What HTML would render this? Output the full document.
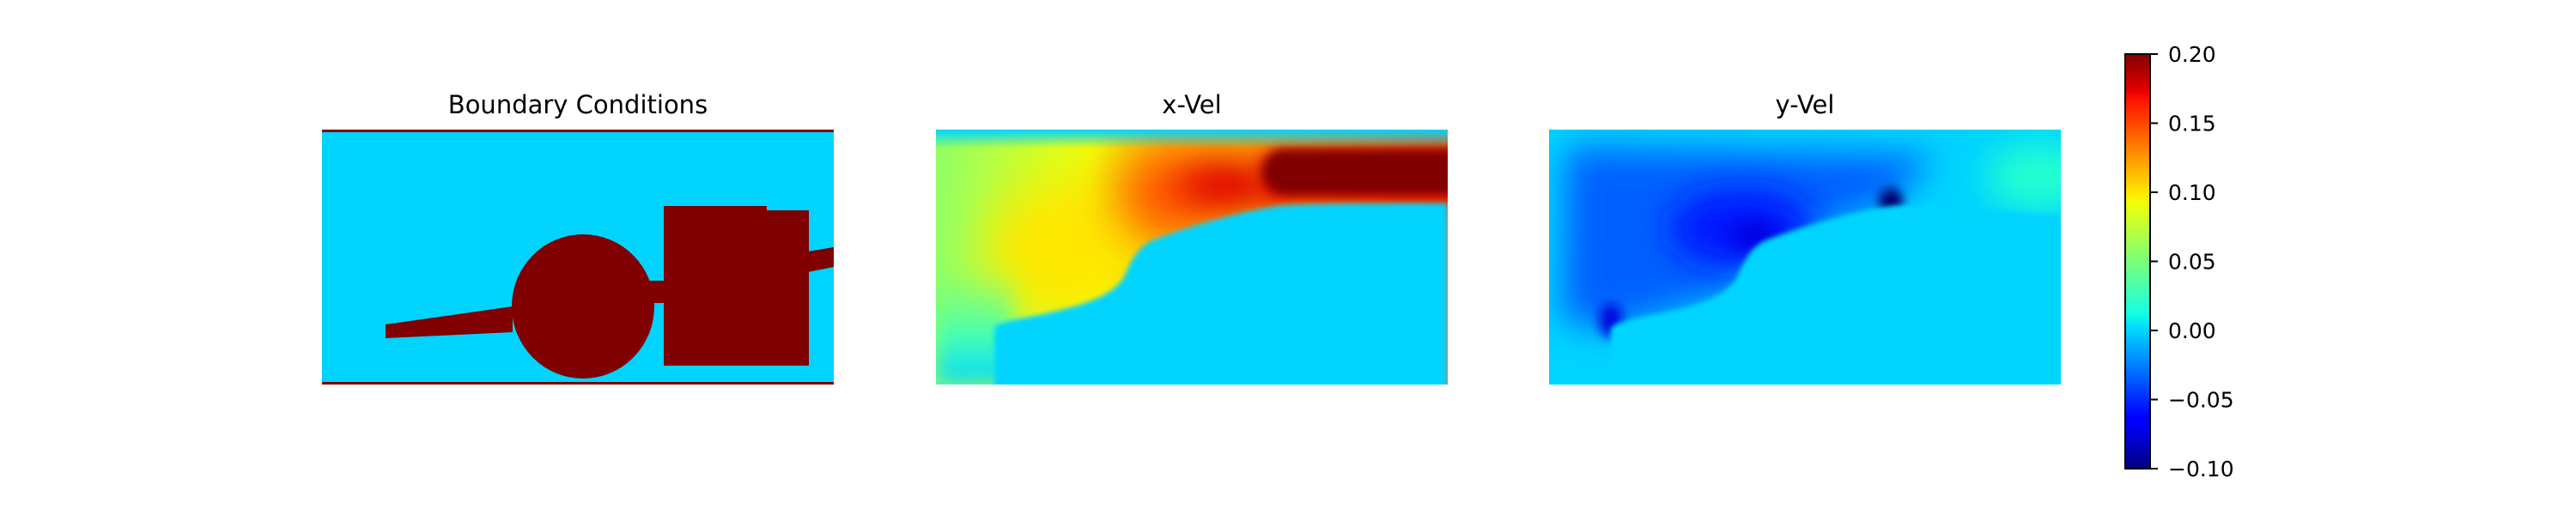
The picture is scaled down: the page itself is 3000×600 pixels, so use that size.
<!DOCTYPE html>
<html><head><meta charset="utf-8"><style>
html,body{margin:0;padding:0;background:#fff;}
svg{display:block;font-family:"DejaVu Sans","Liberation Sans",sans-serif;}
</style></head><body>
<svg id="fig" width="3000" height="600" viewBox="0 0 3000 600" xmlns="http://www.w3.org/2000/svg">
<defs>
<linearGradient id="jet" x1="0" y1="1" x2="0" y2="0">
<stop offset="0" stop-color="#000080"/><stop offset="0.11" stop-color="#0000ff"/><stop offset="0.125" stop-color="#0000ff"/>
<stop offset="0.34" stop-color="#00dbff"/><stop offset="0.375" stop-color="#14ffe3"/><stop offset="0.5" stop-color="#7aff7a"/>
<stop offset="0.64" stop-color="#f0ff08"/><stop offset="0.66" stop-color="#ffed00"/><stop offset="0.89" stop-color="#ff1200"/>
<stop offset="0.91" stop-color="#e80000"/><stop offset="1" stop-color="#800000"/>
</linearGradient>
<linearGradient id="xbase" x1="0" y1="0" x2="1" y2="0">
<stop offset="0" stop-color="#90ff66"/><stop offset="0.15" stop-color="#c0ff38"/><stop offset="0.3" stop-color="#f0ff08"/><stop offset="0.45" stop-color="#ffc000"/><stop offset="1" stop-color="#ff6000"/>
</linearGradient>
<linearGradient id="topstrip" x1="0" y1="0" x2="0" y2="1">
<stop offset="0" stop-color="#00d4ff" stop-opacity="1"/><stop offset="1" stop-color="#00d4ff" stop-opacity="0"/>
</linearGradient>
<linearGradient id="leftbot" x1="0" y1="0" x2="0" y2="1">
<stop offset="0" stop-color="#60ff96" stop-opacity="0"/><stop offset="0.6" stop-color="#40ffb8" stop-opacity="1"/><stop offset="1" stop-color="#00d4ff" stop-opacity="1"/>
</linearGradient>
<filter id="b30" filterUnits="userSpaceOnUse" x="-300" y="-300" width="1200" height="900"><feGaussianBlur stdDeviation="30"/></filter>
<filter id="b20" filterUnits="userSpaceOnUse" x="-300" y="-300" width="1200" height="900"><feGaussianBlur stdDeviation="20"/></filter>
<filter id="b12" filterUnits="userSpaceOnUse" x="-300" y="-300" width="1200" height="900"><feGaussianBlur stdDeviation="12"/></filter>
<filter id="b6" filterUnits="userSpaceOnUse" x="-300" y="-300" width="1200" height="900"><feGaussianBlur stdDeviation="6"/></filter>
<filter id="b3" filterUnits="userSpaceOnUse" x="-300" y="-300" width="1200" height="900"><feGaussianBlur stdDeviation="3"/></filter>
<clipPath id="clipP"><rect x="0" y="0" width="596" height="297"/></clipPath>
</defs>

<!-- Panel 1: Boundary Conditions -->
<text x="673" y="132" font-size="29" text-anchor="middle">Boundary Conditions</text>
<g transform="translate(375,151)" clip-path="url(#clipP)">
<rect x="0" y="0" width="596" height="297" fill="#00d4ff"/>
<rect x="0" y="0" width="596" height="3" fill="#800000"/>
<rect x="0" y="294" width="596" height="3" fill="#800000"/>
<polygon points="74,227 74,243 222,236 222,206" fill="#800000"/>
<ellipse cx="304" cy="206" rx="83" ry="84" fill="#800000"/>
<rect x="370" y="176" width="38" height="26" fill="#800000"/>
<polygon points="398,89 518,89 518,94 567,94 567,275 398,275" fill="#800000"/>
<polygon points="566,142 596,137 596,160 566,166" fill="#800000"/>
</g>

<!-- Panel 2: x-Vel -->
<text x="1388" y="132" font-size="29" text-anchor="middle">x-Vel</text>
<g transform="translate(1090,151)" clip-path="url(#clipP)">
<rect x="0" y="0" width="596" height="297" fill="url(#xbase)"/>
<ellipse cx="150" cy="140" rx="90" ry="80" fill="#ffe800" filter="url(#b30)"/>
<ellipse cx="270" cy="75" rx="60" ry="50" fill="#ff5000" filter="url(#b30)"/>
<ellipse cx="340" cy="65" rx="60" ry="28" fill="#e00000" filter="url(#b20)"/>
<rect x="380" y="28" width="260" height="55" fill="#e00000" filter="url(#b12)"/>
<rect x="380" y="22" width="240" height="54" rx="27" fill="#800000" filter="url(#b6)"/>
<rect x="0" y="0" width="596" height="22" fill="url(#topstrip)"/>
<rect x="0" y="160" width="90" height="137" fill="url(#leftbot)" filter="url(#b12)"/>
<path d="M68,232 C70,226 80,224 120,216 C170,205 205,195 219,172 C228,150 236,138 250,130 C300,110 360,95 398,89 C440,86 520,86 596,86 L596,320 L68,320 Z" fill="#00d4ff" filter="url(#b3)"/>
</g>

<!-- Panel 3: y-Vel -->
<text x="2102" y="132" font-size="29" text-anchor="middle">y-Vel</text>
<g transform="translate(1804,151)" clip-path="url(#clipP)">
<rect x="0" y="0" width="596" height="297" fill="#00d4ff"/>
<polygon points="20,20 450,30 398,86 243,134 219,189 72,232 15,222" fill="#0060ff" filter="url(#b20)"/>
<ellipse cx="225" cy="115" rx="85" ry="45" fill="#0018ff" filter="url(#b20)"/>
<ellipse cx="240" cy="125" rx="30" ry="18" fill="#0000e0" filter="url(#b12)"/>
<ellipse cx="398" cy="84" rx="14" ry="16" fill="#000070" filter="url(#b6)"/>
<ellipse cx="72" cy="222" rx="14" ry="20" fill="#0010e0" filter="url(#b6)"/>
<ellipse cx="570" cy="55" rx="60" ry="40" fill="#20ffd0" filter="url(#b20)"/>
<path d="M72,232 C75,226 90,222 130,214 C175,205 205,195 219,172 C228,150 236,138 250,130 C300,110 360,95 398,89 C440,86 520,95 596,100 L596,320 L72,320 Z" fill="#00d4ff" filter="url(#b3)"/>
</g>

<!-- Colorbar -->
<g id="cbar">
<rect x="2475" y="63" width="29" height="483" fill="url(#jet)" stroke="#000" stroke-width="2"/>
</g>
</svg>
<script>
const cbTicks = [0.20, 0.15, 0.10, 0.05, 0.00, -0.05, -0.10];
const cbLabels = ["0.20", "0.15", "0.10", "0.05", "0.00", "\u22120.05", "\u22120.10"];
const cbMin = -0.10, cbMax = 0.20;
const NS = "http://www.w3.org/2000/svg";
const g = document.getElementById('cbar');
function cy(v){ return 546 - (v - cbMin) / (cbMax - cbMin) * 483; }
cbTicks.forEach((v, i) => {
  const y = cy(v);
  const ln = document.createElementNS(NS, 'line');
  ln.setAttribute('x1', 2504); ln.setAttribute('x2', 2513);
  ln.setAttribute('y1', y); ln.setAttribute('y2', y);
  ln.setAttribute('stroke', '#000'); ln.setAttribute('stroke-width', 2);
  
  
  g.appendChild(ln);
  const t = document.createElementNS(NS, 'text');
  t.setAttribute('x', 2525); t.setAttribute('y', y + 9);
  t.setAttribute('font-size', 25);
  t.textContent = cbLabels[i];
  
  
  g.appendChild(t);
});
</script>
</body></html>
